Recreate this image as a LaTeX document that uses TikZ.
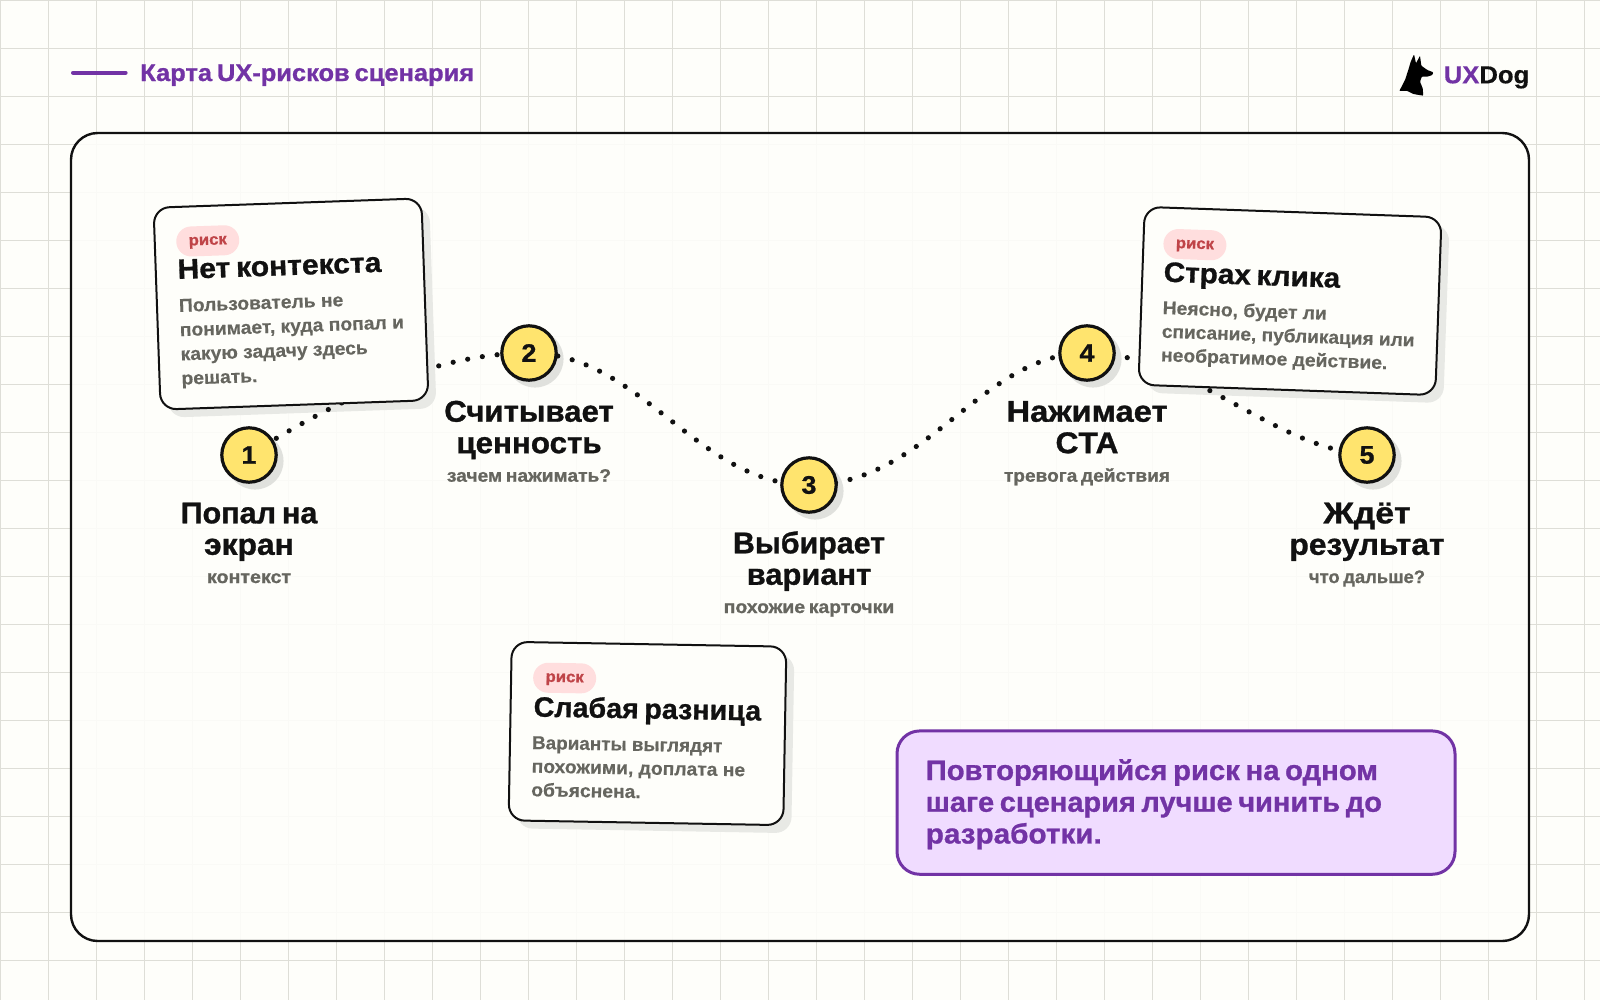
\documentclass[tikz,border=0pt]{standalone}
\usepackage{graphicx}
\usepackage{fontspec}
\setmainfont{Liberation Sans}
\newfontfamily\heavy{Liberation Sans}[WordSpace=0.7,BoldFeatures={FakeBold=1.0,FakeStretch=1.06}]
\newfontfamily\semi{Liberation Sans}[BoldFeatures={FakeBold=0.35,FakeStretch=1.04}]
\definecolor{ink}{HTML}{111111}
\definecolor{purp}{HTML}{7233A5}
\definecolor{greytxt}{HTML}{66665F}
\definecolor{yel}{HTML}{FFE46E}
\definecolor{chipfill}{HTML}{FFDEDE}
\definecolor{chipred}{HTML}{BF4448}
\definecolor{calloutfill}{HTML}{F0DCFF}
\definecolor{page}{HTML}{FEFEFA}
\definecolor{gridc}{HTML}{DEDED7}
\definecolor{shade}{HTML}{E8E9E5}
\definecolor{shadec}{HTML}{E0E1DD}
\newcommand\lines[1]{\begin{tabular}[t]{@{}l@{}}#1\end{tabular}}
\newcommand\clines[1]{\begin{tabular}[t]{@{}c@{}}#1\end{tabular}}
\newcommand\sx[2]{\scalebox{#1}[1]{#2}}
\pgfdeclarelayer{under}
\pgfsetlayers{under,main}
\tikzset{
  gridline/.style={draw=gridc,line width=0.85pt},
  panel/.style={draw=ink,line width=1.8pt,fill=page,fill opacity=0.9,rounded corners=20pt},
  card/.style={draw=ink,line width=1.5pt,fill=page,rounded corners=12pt,inner sep=0pt},
  cardshadow/.style={fill=shade,rounded corners=12pt,inner sep=0pt},
  chip/.style={fill=chipfill,rounded corners=11.25pt,minimum width=47.25pt,minimum height=22.5pt,inner sep=0pt,text=chipred,text height=6pt,text depth=0pt,font=\heavy\bfseries\fontsize{11.8}{13}\selectfont},
  cardtitle/.style={anchor=base west,inner sep=0pt,text=ink,font=\heavy\bfseries\fontsize{21}{23}\selectfont},
  cardbody/.style={anchor=base west,inner sep=0pt,text=greytxt,font=\semi\bfseries\fontsize{13.9}{18.2}\selectfont},
  cardbodytight/.style={cardbody,font=\semi\bfseries\fontsize{13.9}{17.7}\selectfont},
  stepdot/.style={circle,draw=ink,line width=2.4pt,fill=yel,minimum size=40.8pt,inner sep=0pt,text=ink,font=\heavy\bfseries\fontsize{19}{21}\selectfont},
  stepshadow/.style={circle,fill=shadec,minimum size=42.8pt,inner sep=0pt},
  steptitle/.style={anchor=base,inner sep=0pt,text=ink,font=\heavy\bfseries\fontsize{22.5}{23.6}\selectfont},
  stepnote/.style={anchor=base,inner sep=0pt,text=greytxt,font=\heavy\bfseries\fontsize{13.5}{15}\selectfont},
  dotted path/.style={draw=ink,line width=3.9pt,line cap=round,dash pattern=on 0pt off 11.15pt},
  calloutbox/.style={draw=purp,line width=2.25pt,fill=calloutfill,rounded corners=17pt,inner sep=0pt},
  callouttext/.style={anchor=base west,inner sep=0pt,text=purp,font=\heavy\bfseries\fontsize{21}{23.8}\selectfont},
}
\begin{document}
\begin{tikzpicture}[x=0.75pt,y=-0.75pt]
\useasboundingbox (0,0) rectangle (1600,1000);
\begin{pgfonlayer}{under}
\fill[page] (0,0) rectangle (1600,1000);
\foreach \g in {0,...,33} {\draw[gridline] ({\g*48+0.7},0) -- ({\g*48+0.7},1000);}
\foreach \g in {0,...,20} {\draw[gridline] (0,{\g*48+0.7}) -- (1600,{\g*48+0.7});}
\draw[panel] (71,133) rectangle (1529,941);
% shadows
\node[cardshadow,minimum width=201pt,minimum height=151.5pt,rotate=2] (sh1) at (299,312) {};
\node[cardshadow,minimum width=222.75pt,minimum height=133.5pt,rotate=-2] (sh2) at (1298,309) {};
\node[cardshadow,minimum width=206pt,minimum height=133.9pt,rotate=-1] (sh3) at (655.5,741.5) {};
\node[stepshadow] (ss1) at (255,461) {};
\node[stepshadow] (ss2) at (535,359) {};
\node[stepshadow] (ss3) at (815,491) {};
\node[stepshadow] (ss4) at (1093,359) {};
\node[stepshadow] (ss5) at (1373,461) {};
\end{pgfonlayer}

% step circles
\node[stepdot] (s1) at (249,455) {1};
\node[stepdot] (s2) at (529,353) {2};
\node[stepdot] (s3) at (809,485) {3};
\node[stepdot] (s4) at (1087,353) {4};
\node[stepdot] (s5) at (1367,455) {5};

\begin{pgfonlayer}{under}
\draw[dotted path,dash phase=9.45pt] (s1.center) .. controls (305,420) and (417,353) .. (s2.center);
\draw[dotted path,dash phase=0.55pt] (s2.center) .. controls (641,353) and (697,485) .. (s3.center);
\draw[dotted path,dash phase=2.3pt] (s3.center) .. controls (927,485) and (981,353) .. (s4.center);
\draw[dotted path,dash phase=3pt] (s4.center) .. controls (1190,353) and (1270,447) .. (s5.center);
\end{pgfonlayer}

% header
\coordinate (hl1) at (73,72.7);
\coordinate (hl2) at (125.6,72.7);
\draw[purp,line width=3pt,line cap=round] (hl1) -- (hl2);
\node[anchor=base west,inner sep=0pt,text=purp,font=\heavy\bfseries\fontsize{18}{20}\selectfont] (head) at (140,81) {Карта UX-рисков сценария};

% logo
\fill[black,rounded corners=0.6pt] (1399.3,91) -- (1405,80) -- (1408.3,70) -- (1410.7,61.7) -- (1414,54.3) -- (1416,63.3) -- (1420,55.7) -- (1421.3,65.7) -- (1427.3,70) -- (1433.3,72.3) -- (1432.3,75) -- (1427.3,76.7) -- (1421.7,76.7) -- (1420,81.7) -- (1422.7,88.3) -- (1423.3,95.7) -- (1413.3,94) -- (1406.7,90.7) -- cycle;
\node[anchor=base west,inner sep=0pt,font=\semi\bfseries\fontsize{18.5}{21}\selectfont] (logo) at (1443.5,83.3) {\textcolor{purp}{UX}\textcolor{ink}{Dog}};

% step labels
\node[steptitle] (t1) at (249,523.3) {\clines{\sx{0.96}{Попал на}\\экран}};
\node[stepnote] (n1) at (249,583) {\sx{1.03}{контекст}};
\node[steptitle] (t2) at (529,421.7) {\clines{\sx{0.98}{Считывает}\\\sx{0.985}{ценность}}};
\node[stepnote] (n2) at (529,481.7) {\sx{1.005}{зачем нажимать?}};
\node[steptitle] (t3) at (809,553.3) {\clines{\sx{0.955}{Выбирает}\\\sx{0.97}{вариант}}};
\node[stepnote] (n3) at (809,613) {\sx{1.015}{похожие карточки}};
\node[steptitle] (t4) at (1087,421.7) {\clines{\sx{1.03}{Нажимает}\\CTA}};
\node[stepnote] (n4) at (1087,481.7) {тревога действия};
\node[steptitle] (t5) at (1367,523.3) {\clines{\sx{1.06}{Ждёт}\\результат}};
\node[stepnote] (n5) at (1367,583) {\sx{0.965}{что дальше?}};

% card 1
\begin{scope}[shift={(291,304)},rotate=2,transform shape]
\node[card,minimum width=201pt,minimum height=151.5pt] (card1) at (0,0) {};
\node[chip] (chip1) at (-81,-66) {риск};
\node[cardtitle] (title1) at (-112.4,-29) {\sx{1.012}{Нет контекста}};
\node[cardbody] (body1) at (-112.3,4) {\lines{Пользователь не\\понимает, куда попал и\\какую задачу здесь\\решать.}};
\end{scope}
% card 2
\begin{scope}[shift={(1290,301)},rotate=-2,transform shape]
\node[card,minimum width=222.75pt,minimum height=133.5pt] (card2) at (0,0) {};
\node[chip] (chip2) at (-97,-53) {риск};
\node[cardtitle] (title2) at (-127.4,-15) {Страх клика};
\node[cardbodytight] (body2) at (-127.2,17.5) {\lines{Неясно, будет ли\\\sx{0.99}{списание, публикация или}\\необратимое действие.}};
\end{scope}
% card 3
\begin{scope}[shift={(647.5,733.5)},rotate=-1,transform shape]
\node[card,minimum width=206pt,minimum height=133.9pt] (card3) at (0,0) {};
\node[chip] (chip3) at (-83.8,-54) {риск};
\node[cardtitle] (title3) at (-114.5,-15) {\sx{0.965}{Слабая разница}};
\node[cardbodytight] (body3) at (-115.5,17.5) {\lines{\sx{0.98}{Варианты выглядят}\\похожими, доплата не\\объяснена.}};
\end{scope}

% callout
\node[calloutbox,minimum width=418.5pt,minimum height=107.5pt] (call) at (1176,802.6) {};
\node[callouttext] (calltext) at (925.5,780) {\lines{\sx{0.985}{Повторяющийся риск на одном}\\\sx{0.976}{шаге сценария лучше чинить до}\\разработки.}};
\end{tikzpicture}
\end{document}
